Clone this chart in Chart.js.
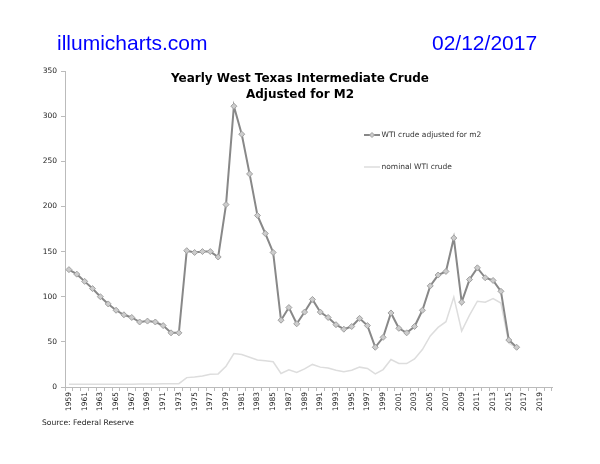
<!DOCTYPE html>
<html>
<head>
<meta charset="utf-8">
<script src="https://cdn.jsdelivr.net/npm/chart.js@4"></script>
<style>
  body { margin: 0; background: #fff; }
  #wrap { position: relative; width: 600px; height: 464px; }
  canvas { position: absolute; left: 0; top: 0; }
  .hdr { position: absolute; font-family: "Liberation Sans", Arial, sans-serif; font-size: 21px; color: #0000ff; line-height: 1; }
  #site { left: 57px; top: 32px; }
  #date { left: 432px; top: 32px; }
  #title { position: absolute; left: 0; width: 600px; top: 71px; text-align: center; font-family: "DejaVu Sans", Verdana, sans-serif; font-weight: bold; font-size: 12px; line-height: 15.5px; color: #000; }
  #source { position: absolute; left: 42px; top: 418px; font-family: "DejaVu Sans", Verdana, sans-serif; font-size: 7.6px; color: #222; }
</style>
</head>
<body>
<div id="wrap">
  <canvas id="chart" width="600" height="464"></canvas>
  <div class="hdr" id="site">illumicharts.com</div>
  <div class="hdr" id="date">02/12/2017</div>
  <div id="title">Yearly West Texas Intermediate Crude<br>Adjusted for M2</div>
  <div id="source">Source: Federal Reserve</div>
</div>
<script>
const years = [];
for (let y = 1959; y <= 2020; y++) years.push(String(y));

const adjusted = [
  130, 125, 117, 109, 100, 92, 85, 80, 77, 72,
  73, 72, 68, 60, 60, 151, 149, 150, 150, 144,
  202, 311, 280, 236, 190, 170, 149, 74, 88, 70,
  83, 97, 83, 77, 69, 64, 67, 76, 68, 44,
  55, 82, 65, 60, 67, 85, 112, 124, 128, 165,
  94, 119, 132, 121, 118, 106, 52, 44, null, null,
  null, null
];

const nominal = [
  3, 3, 3, 3, 3, 3, 3, 3, 3.1, 3.2,
  3.3, 3.4, 3.6, 3.6, 3.7, 10.4, 11.2, 12.2, 14, 14.5,
  23, 37, 36, 33, 30, 29, 28, 15, 19, 16,
  20, 25, 22, 21, 18.5, 17, 18.5, 22, 20.5, 14.5,
  19.3, 30.4, 26, 26, 31, 41.5, 56.6, 66, 72.3, 99.7,
  62, 79.5, 95, 94, 98, 93, 48.7, 43.3, null, null,
  null, null
];

const yTicks = [0, 50, 100, 150, 200, 250, 300, 350];

const tickFont = { family: 'DejaVu Sans', size: 7.5 };

// legend drawn inside the plot, like the original
const innerLegend = {
  id: 'innerLegend',
  afterDraw(chart) {
    const c = chart.ctx;
    const rows = [135, 167];
    chart.data.datasets.forEach((ds, i) => {
      const y = rows[i];
      c.save();
      c.strokeStyle = ds.borderColor;
      c.lineWidth = ds.borderWidth;
      c.beginPath();
      c.moveTo(364, y);
      c.lineTo(380, y);
      c.stroke();
      if (ds.pointRadius > 0) {
        c.fillStyle = ds.pointBackgroundColor;
        c.strokeStyle = ds.pointBorderColor;
        c.lineWidth = 1;
        c.beginPath();
        c.moveTo(372, y - 2.5);
        c.lineTo(374.5, y);
        c.lineTo(372, y + 2.5);
        c.lineTo(369.5, y);
        c.closePath();
        c.fill();
        c.stroke();
      }
      c.fillStyle = '#333';
      c.font = '7.5px "DejaVu Sans"';
      c.textBaseline = 'middle';
      c.fillText(ds.label, 381.5, y);
      c.restore();
    });
  }
};

new Chart(document.getElementById('chart'), {
  type: 'line',
  data: {
    labels: years,
    datasets: [
      {
        label: 'WTI crude adjusted for m2',
        data: adjusted,
        borderColor: '#888888',
        borderWidth: 2,
        pointStyle: 'rectRot',
        pointRadius: 3,
        pointBackgroundColor: '#cccccc',
        pointBorderColor: '#a0a0a0',
        pointBorderWidth: 1,
        tension: 0,
        spanGaps: false
      },
      {
        label: 'nominal WTI crude',
        data: nominal,
        borderColor: '#dddddd',
        borderWidth: 1.5,
        pointRadius: 0,
        tension: 0
      }
    ]
  },
  options: {
    responsive: false,
    animation: false,
    layout: { padding: { top: 71, right: 48, bottom: 0, left: 0 } },
    plugins: {
      legend: { display: false },
      title: { display: false },
      tooltip: { enabled: false }
    },
    scales: {
      x: {
        offset: true,
        afterFit(s) { s.height = 77; },
        border: { color: '#bbbbbb', width: 1 },
        grid: { display: true, drawOnChartArea: false, tickLength: 4, color: '#bbbbbb', offset: true },
        ticks: {
          autoSkip: false,
          maxRotation: 90,
          minRotation: 90,
          padding: 1,
          color: '#222',
          font: tickFont,
          callback(v, i) { return i % 2 === 0 ? years[i] : ''; }
        }
      },
      y: {
        min: 0,
        max: 350,
        afterFit(s) { s.width = 65; },
        afterBuildTicks(s) { s.ticks = yTicks.map(v => ({ value: v })); },
        border: { color: '#bbbbbb', width: 1 },
        grid: { display: true, drawOnChartArea: false, tickLength: 4, color: '#bbbbbb' },
        ticks: { padding: 4, color: '#222', font: tickFont }
      }
    }
  },
  plugins: [innerLegend]
});
</script>
</body>
</html>
